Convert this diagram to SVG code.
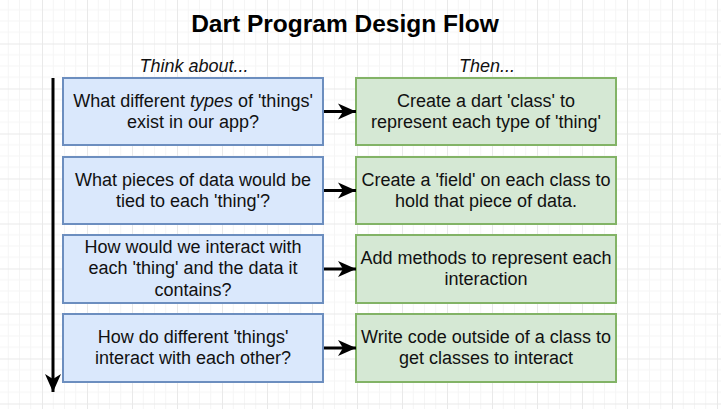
<svg xmlns="http://www.w3.org/2000/svg" width="721" height="409" viewBox="0 0 721 409">
<defs>
<pattern id="grid" patternUnits="userSpaceOnUse" x="-3" y="-1.5" width="45" height="45">
<path d="M11.25,0V45M22.5,0V45M33.75,0V45M0,11.25H45M0,22.5H45M0,33.75H45" stroke="#f5f5f5" stroke-width="1" fill="none"/>
<path d="M0.5,0V45M0,0.5H45" stroke="#e9e9e9" stroke-width="1" fill="none"/>
</pattern>
<marker id="ah" markerUnits="userSpaceOnUse" markerWidth="18" markerHeight="16" refX="18" refY="8" orient="auto" overflow="visible">
<path d="M0,0 L18,8 L0,16 L5,8 z" fill="#000"/>
</marker>
</defs>
<style>
.q rect{fill:#dae8fc;stroke:#6c8ebf;stroke-width:2}
.a rect{fill:#d5e8d4;stroke:#82b366;stroke-width:2}
.t{font-family:"Liberation Sans",Arial,sans-serif;font-size:18px;fill:#111;text-anchor:middle}
.h{font-family:"Liberation Sans",Arial,sans-serif;font-size:18px;font-style:italic;fill:#111;text-anchor:middle}
.c{stroke:#000;stroke-width:3;fill:none}
</style>
<rect width="721" height="409" fill="#fff"/>
<rect width="721" height="409" fill="url(#grid)"/>
<g id="title"><text x="345" y="32" style="font-family:'Liberation Sans',Arial,sans-serif;font-size:24.5px;font-weight:bold;fill:#000;text-anchor:middle">Dart Program Design Flow</text></g>
<g id="headers">
<text class="h" x="194" y="72">Think about...</text>
<text class="h" x="487" y="72">Then...</text>
</g>
<g id="q1" class="q"><rect x="63" y="78" width="260" height="67"/>
<text class="t" x="193" y="107">What different <tspan font-style="italic">types</tspan> of 'things'</text>
<text class="t" x="193" y="128">exist in our app?</text></g>
<g id="q2" class="q"><rect x="63" y="157" width="260" height="67"/>
<text class="t" x="193" y="186">What pieces of data would be</text>
<text class="t" x="193" y="207">tied to each 'thing'?</text></g>
<g id="q3" class="q"><rect x="63" y="235" width="260" height="68"/>
<text class="t" x="193" y="253">How would we interact with</text>
<text class="t" x="193" y="274">each 'thing' and the data it</text>
<text class="t" x="193" y="296">contains?</text></g>
<g id="q4" class="q"><rect x="63" y="314" width="260" height="68"/>
<text class="t" x="193" y="343">How do different 'things'</text>
<text class="t" x="193" y="364">interact with each other?</text></g>
<g id="a1" class="a"><rect x="356" y="78" width="260" height="67"/>
<text class="t" x="486" y="107">Create a dart 'class' to</text>
<text class="t" x="486" y="128">represent each type of 'thing'</text></g>
<g id="a2" class="a"><rect x="356" y="157" width="260" height="67"/>
<text class="t" x="486" y="186">Create a 'field' on each class to</text>
<text class="t" x="486" y="207">hold that piece of data.</text></g>
<g id="a3" class="a"><rect x="356" y="235" width="260" height="68"/>
<text class="t" x="486" y="264">Add methods to represent each</text>
<text class="t" x="486" y="285">interaction</text></g>
<g id="a4" class="a"><rect x="356" y="314" width="260" height="68"/>
<text class="t" x="486" y="343">Write code outside of a class to</text>
<text class="t" x="486" y="364">get classes to interact</text></g>
<g id="connectors">
<path class="c" d="M324,111.5H356" marker-end="url(#ah)"/>
<path class="c" d="M324,190.5H356" marker-end="url(#ah)"/>
<path class="c" d="M324,269H356" marker-end="url(#ah)"/>
<path class="c" d="M324,348H356" marker-end="url(#ah)"/>
<path class="c" d="M53,78V392" marker-end="url(#ah)"/>
</g>
</svg>
